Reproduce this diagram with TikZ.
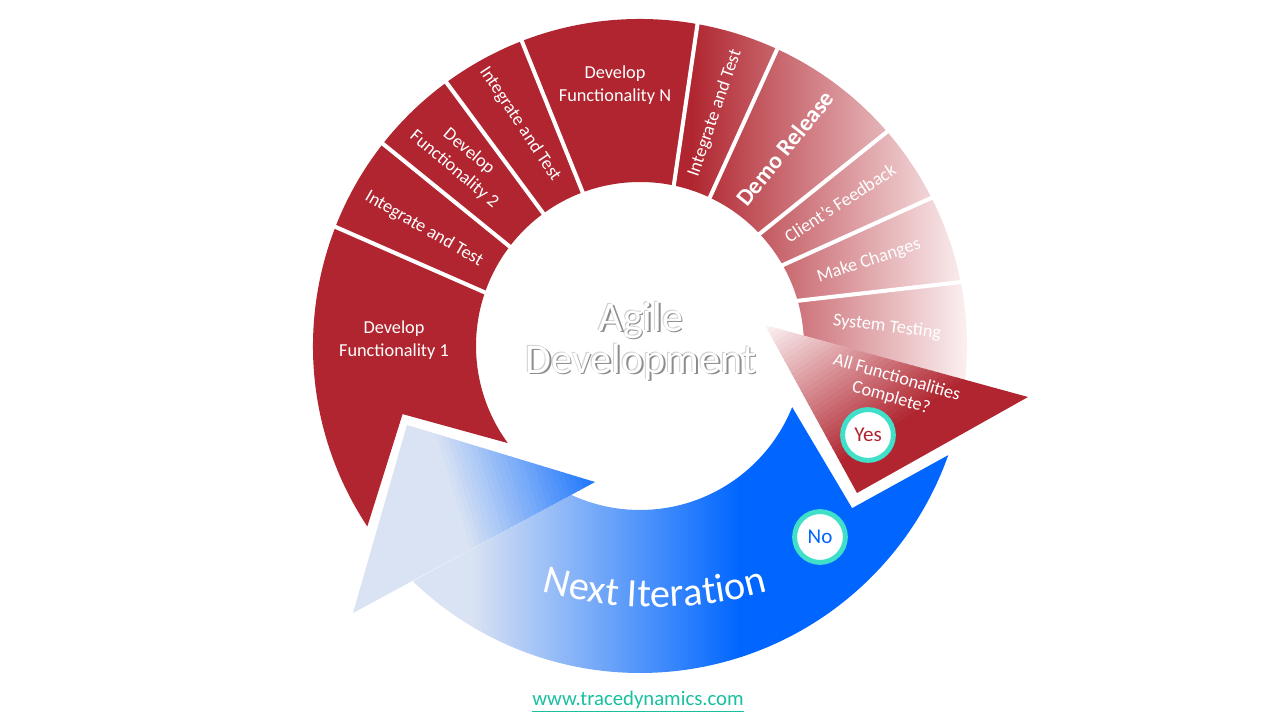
\documentclass[tikz,border=0pt]{standalone}
\usepackage{fontspec}
\setmainfont{Carlito}
\usetikzlibrary{decorations.text}
\definecolor{agred}{RGB}{176,37,47}
\definecolor{agredlight}{RGB}{252,242,243}
\definecolor{agblue}{RGB}{0,102,255}
\definecolor{agbluelight}{RGB}{218,227,243}
\definecolor{agteal}{RGB}{64,224,200}
\definecolor{aglink}{RGB}{24,192,160}
\definecolor{agshadow}{RGB}{140,140,140}

\begin{document}
\begin{tikzpicture}[x=0.02cm, y=0.02cm,
    divider/.style={white, line width=2.3pt},
    seglabel/.style={text=white, align=center, inner sep=0pt,
                     font=\fontsize{10.4}{13}\selectfont},
    badge/.style={circle, draw=agteal, line width=2.8pt, fill=white,
                  minimum size=28.9pt, inner sep=0pt,
                  font=\fontsize{12}{12}\selectfont},
    titletext/.style={align=center, font=\fontsize{24}{24}\selectfont},
  ]
  \path[use as bounding box, fill=white] (-640,-374) rectangle (640,346);

  % red ring, solid on the left and fading out to the right
  \begin{scope}
    \clip (213.5:327) arc[start angle=213.5, end angle=-6, radius=327]
      -- (3.6:164) arc[start angle=3.6, end angle=216.3, radius=164]
      -- (196:247) -- cycle;
    \fill[agred] (-340,-340) rectangle (50,340);
    \shade[left color=agred, right color=agredlight] (50,-340) rectangle (330,340);
  \end{scope}

  % white dividers between the steps
  \foreach \ao/\ai in {158.6/161.1, 141.8/142.7, 126.3/126.1, 111.2/110.4,
                       79.9/78.0, 65.2/64.8, 40.9/43.3, 26.9/29.7, 11.2/16.3}
    \draw[divider] (\ao:332) -- (\ai:159);

  % red arrow head
  \begin{scope}
    \clip (125,21) -- (388,-51) -- (217,-147) -- cycle;
    \begin{scope}[shift={(125,21)}, rotate=-56.5]
      \foreach \i in {0,...,31} {
        \pgfmathsetmacro\p{\i*100/31}
        \fill[agred!\p!agredlight] (\i*5,-300) rectangle (\i*5+5.6,300);
      }
      \fill[agred] (160,-300) rectangle (400,300);
    \end{scope}
  \end{scope}

  % blue ring
  \begin{scope}
    \clip (340.5:327) arc[start angle=340.5, end angle=226, radius=327]
      -- (245.2:164) arc[start angle=245.2, end angle=338.1, radius=164]
      -- (322.6:267) -- cycle;
    \fill[agbluelight] (-340,-340) rectangle (-170,0);
    \shade[left color=agbluelight, right color=agblue] (-170,-340) rectangle (100,0);
    \fill[agblue] (100,-340) rectangle (340,0);
  \end{scope}

  % blue arrow head
  \begin{scope}
    \clip (-233,-79) -- (-287,-267) -- (-45,-136) -- cycle;
    \begin{scope}[shift={(-190,-150)}, rotate=17]
      \fill[agbluelight] (-200,-200) rectangle (0.5,200);
      \foreach \i in {0,...,29} {
        \pgfmathsetmacro\p{\i*90/29}
        \fill[agblue!\p!agbluelight] (\i*5,-200) rectangle (\i*5+5.6,200);
      }
      \fill[agblue!90!agbluelight] (150,-200) rectangle (300,200);
    \end{scope}
  \end{scope}

  % step labels
  \node[seglabel] (dev1) at (-246,6) {Develop\\Functionality 1};
  \node[seglabel, rotate=-30] (int1) at (-216,117) {Integrate and Test};
  \node[seglabel, rotate=-40] (dev2) at (-178.5,185.5) {Develop\\Functionality 2};
  \node[seglabel, rotate=-56.5] (int2) at (-120,222) {Integrate and Test};
  \node[seglabel] (devn) at (-25,261) {Develop\\Functionality N};
  \node[seglabel, rotate=71] (int3) at (75,233) {Integrate and Test};
  \node[seglabel, rotate=51, font=\fontsize{13.5}{16}\selectfont\bfseries]
    (demo) at (145,198) {Demo Release};
  \node[seglabel, rotate=33] (feed) at (200,143) {Client’s Feedback};
  \node[seglabel, rotate=18.4] (chg) at (229,85) {Make Changes};
  \node[seglabel, rotate=-7] (sys) at (247,19) {System Testing};
  \node[seglabel, rotate=-16, font=\fontsize{10.4}{11.8}\selectfont]
    (allf) at (254,-42) {All Functionalities\\Complete?};

  % decision badges
  \node[badge, text=agred] (yes) at (228,-89) {Yes};
  \node[badge, text=agblue] (no) at (180,-191) {No};

  % curved label on the blue arrow
  \path[shift={(15,162)}, decorate,
        decoration={text along path, text align=center, text color=white,
                    text={|\fontsize{23}{23}\selectfont|Next Iteration}}]
    (253:423) arc[start angle=253, end angle=287, radius=423];

  % centre title
  \node[titletext, text=agshadow!40] (titlerim) at (0,6) {Agile\\Development};
  \node[titletext, text=agshadow] (titleshade) at (2.5,3.5) {Agile\\Development};
  \node[titletext, text=white] (title) at (1,5) {Agile\\Development};

  \node[text=aglink, font=\fontsize{11.8}{12}\selectfont] (site) at (-2,-356)
    {\underline{www.tracedynamics.com}};
\end{tikzpicture}
\end{document}
